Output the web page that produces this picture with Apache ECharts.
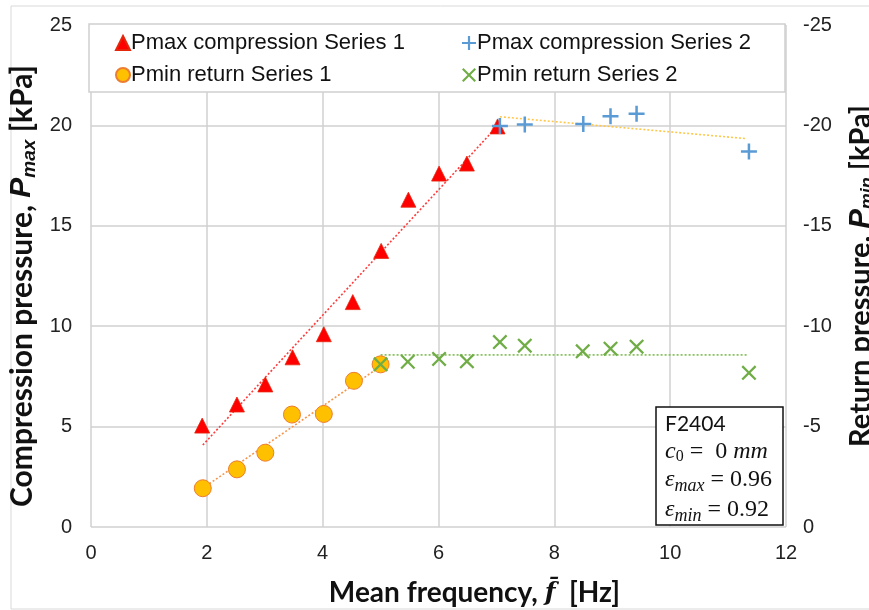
<!DOCTYPE html>
<html>
<head>
<meta charset="utf-8">
<script src="https://cdn.jsdelivr.net/npm/echarts@6/dist/echarts.min.js"></script>
<style>
html,body{margin:0;padding:0;background:#fff;}
#c{width:869px;height:610px;}
</style>
</head>
<body>
<div id="c"></div>
<script>
// ---- data ----
const xTicks = [0, 2, 4, 6, 8, 10, 12];
const leftTicks = [0, 5, 10, 15, 20, 25];
const rightTicks = [0, -5, -10, -15, -20, -25];

const fPmaxS1 = [1.92, 2.52, 3.01, 3.48, 4.02, 4.52, 5.01, 5.48, 6.01, 6.49, 7.02];
const pmaxS1  = [5.05, 6.1, 7.1, 8.45, 9.6, 11.2, 13.75, 16.3, 17.6, 18.1, 19.95];

const fPminS1 = [1.93, 2.52, 3.01, 3.47, 4.02, 4.54, 5.0];
const pminS1  = [-1.93, -2.87, -3.7, -5.6, -5.63, -7.28, -8.1];

const fPmaxS2 = [7.06, 7.49, 8.5, 8.97, 9.42, 11.36];
const pmaxS2  = [19.97, 20.05, 20.07, 20.45, 20.58, 18.7];

const fPminS2 = [5.0, 5.47, 6.01, 6.49, 7.06, 7.49, 8.49, 8.97, 9.42, 11.36];
const pminS2  = [-8.1, -8.23, -8.37, -8.25, -9.21, -9.03, -8.75, -8.88, -8.98, -7.68];

// trend-line end points
const trendPmaxS1X = [1.93, 7.06];
const trendPmaxS1Y = [4.08, 20.1];
const trendPminS1X = [1.93, 5.0];
const trendPminS1Y = [-1.93, -8.0];
const trendPmaxS2X = [7.06, 11.32];
const trendPmaxS2Y = [20.43, 19.34];
const trendPminS2X = [5.0, 11.32];
const trendPminS2Y = [-8.57, -8.57];

const names = ['Pmax compression Series 1', 'Pmin return Series 1', 'Pmax compression Series 2', 'Pmin return Series 2'];

// ---- build ----
const zip = (a, b) => a.map((v, i) => [v, b[i]]);
const plusPath = 'path://M-1.1,-7H1.1V-1.1H7V1.1H1.1V7H-1.1V1.1H-7V-1.1H-1.1Z';
const crossPath = 'path://M-7,-5.5L-5.5,-7L0,-1.5L5.5,-7L7,-5.5L1.5,0L7,5.5L5.5,7L0,1.5L-5.5,7L-7,5.5L-1.5,0Z';

const tickFont = {fontFamily: 'Liberation Sans', fontSize: 20, color: '#222'};
const titleFont = 'Lato';

const chart = echarts.init(document.getElementById('c'), null, {renderer: 'canvas'});

function trend(x, y, yAxisIndex, color) {
  return {
    type: 'line', data: zip(x, y), yAxisIndex: yAxisIndex, showSymbol: false, symbol: 'none',
    lineStyle: {color: color, width: 1.6, type: [2, 2]}, z: 1, silent: true, animation: false,
    legendHoverLink: false
  };
}

function titleRich(size) {
  return {
    b: {fontFamily: titleFont, fontWeight: 'bold', fontSize: size, color: '#111'},
    i: {fontFamily: 'Liberation Sans', fontStyle: 'italic', fontWeight: 'bold', fontSize: size, color: '#111'},
    s: {fontFamily: 'Liberation Sans', fontStyle: 'italic', fontWeight: 'bold', fontSize: Math.round(size * 0.62), color: '#111', padding: [Math.round(size * 0.5), 0, 0, 0]}
  };
}

const option = {
  animation: false,
  backgroundColor: '#fff',
  grid: {left: 91, right: 83, top: 25, bottom: 83, containLabel: false, outerBoundsMode: 'none'},
  xAxis: {
    type: 'value', min: 0, max: 12, interval: 2,
    axisLine: {show: false}, axisTick: {show: false},
    splitLine: {show: true, lineStyle: {color: '#d0d0d0', width: 1.5}},
    axisLabel: Object.assign({margin: 16}, tickFont),
    name: '{b|Mean frequency, }{i|f\u0304}{b|  [Hz]}',
    nameLocation: 'middle', nameGap: 52,
    nameTextStyle: {
      padding: [0, 0, 0, 72],
      rich: {
        b: {fontFamily: titleFont, fontWeight: 'bold', fontSize: 28, color: '#111'},
        i: {fontFamily: 'DejaVu Serif', fontStyle: 'italic', fontWeight: 'bold', fontSize: 25, color: '#111'}
      }
    }
  },
  yAxis: [
    {
      type: 'value', min: 0, max: 25, interval: 5, position: 'left',
      axisLine: {show: false}, axisTick: {show: false},
      splitLine: {show: true, lineStyle: {color: '#d0d0d0', width: 1.5}},
      axisLabel: Object.assign({margin: 19}, tickFont),
      name: '{b|Compression pressure, }{i|P}{s|max}{b| [kPa]}',
      nameLocation: 'middle', nameGap: 41, nameRotate: 90,
      nameTextStyle: {padding: [0, 20, 0, 0], rich: titleRich(30)}
    },
    {
      type: 'value', min: -25, max: 0, interval: 5, inverse: true, position: 'right',
      axisLine: {show: false}, axisTick: {show: false},
      splitLine: {show: false},
      axisLabel: Object.assign({margin: 17}, tickFont),
      name: '{b|Return pressure, }{i|P}{s|min}{b| [kPa]}',
      nameLocation: 'middle', nameGap: 58, nameRotate: 90,
      nameTextStyle: {rich: titleRich(29)}
    }
  ],
  legend: [
    {
      data: [names[0], names[1]], orient: 'vertical', left: 110, top: 27, itemGap: 10,
      itemWidth: 14, itemHeight: 14, z: 10,
      textStyle: {fontFamily: 'Liberation Sans', fontSize: 22, color: '#111', padding: [0, 0, 0, -4]}
    },
    {
      data: [names[2], names[3]], orient: 'vertical', left: 457, top: 27, itemGap: 10,
      itemWidth: 14, itemHeight: 14, z: 10,
      textStyle: {fontFamily: 'Liberation Sans', fontSize: 22, color: '#111', padding: [0, 0, 0, -4]}
    }
  ],
  graphic: [
    {type: 'rect', shape: {x: 11, y: 6, width: 870, height: 603}, style: {fill: 'none', stroke: '#d9d9d9', lineWidth: 1}, z: 0, silent: true},
    {type: 'rect', shape: {x: 89, y: 24, width: 696, height: 68}, style: {fill: '#fff', stroke: '#d0d0d0', lineWidth: 1.5}, z: 5, silent: true},
    {type: 'rect', shape: {x: 656, y: 407, width: 127, height: 118}, style: {fill: '#fff', stroke: '#111', lineWidth: 1.5}, z: 5, silent: true},
    {
      type: 'text', left: 665, top: 414, z: 6, silent: true,
      style: {
        text: '{t|F2404}\n{m|c}{u|0}{r| =  0 }{m|mm}\n{m|\u03b5}{v|max}{r| = 0.96}\n{m|\u03b5}{v|min}{r| = 0.92}',
        rich: {
          t: {fontFamily: 'Lato', fontSize: 21, lineHeight: 27, fill: '#111'},
          m: {fontFamily: 'Liberation Serif', fontStyle: 'italic', fontSize: 24, lineHeight: 27, fill: '#111'},
          r: {fontFamily: 'Liberation Serif', fontSize: 24, lineHeight: 27, fill: '#111'},
          u: {fontFamily: 'Liberation Serif', fontSize: 16, padding: [10, 0, 0, 0], fill: '#111'},
          v: {fontFamily: 'Liberation Serif', fontStyle: 'italic', fontSize: 18, padding: [12, 0, 0, 0], fill: '#111'}
        }
      }
    }
  ],
  series: [
    trend(trendPmaxS1X, trendPmaxS1Y, 0, '#ff3b3b'),
    trend(trendPminS1X, trendPminS1Y, 1, '#f7954a'),
    trend(trendPmaxS2X, trendPmaxS2Y, 0, '#ffc84a'),
    trend(trendPminS2X, trendPminS2Y, 1, '#7dbb52'),
    {
      name: names[0], type: 'scatter', yAxisIndex: 0, data: zip(fPmaxS1, pmaxS1),
      symbol: 'triangle', symbolSize: 15, z: 3,
      itemStyle: {color: '#ff0000', borderColor: '#e4260c', borderWidth: 0.8, opacity: 1}
    },
    {
      name: names[1], type: 'scatter', yAxisIndex: 1, data: zip(fPminS1, pminS1),
      symbol: 'circle', symbolSize: 17, z: 3,
      itemStyle: {color: '#ffc000', borderColor: '#ed7d31', borderWidth: 1, opacity: 1}
    },
    {
      name: names[2], type: 'scatter', yAxisIndex: 0, data: zip(fPmaxS2, pmaxS2),
      symbol: plusPath, symbolSize: 16, z: 4,
      itemStyle: {color: '#5b9bd5', opacity: 1}
    },
    {
      name: names[3], type: 'scatter', yAxisIndex: 1, data: zip(fPminS2, pminS2),
      symbol: crossPath, symbolSize: 15, z: 4,
      itemStyle: {color: '#70ad47', opacity: 1}
    }
  ]
};
option.xAxis.axisLabel.formatter = v => (xTicks.indexOf(v) >= 0 ? String(v) : '');
option.yAxis[0].axisLabel.formatter = v => (leftTicks.indexOf(v) >= 0 ? String(v) : '');
option.yAxis[1].axisLabel.formatter = v => (rightTicks.indexOf(v) >= 0 ? String(v) : '');
chart.setOption(option);
</script>
</body>
</html>
